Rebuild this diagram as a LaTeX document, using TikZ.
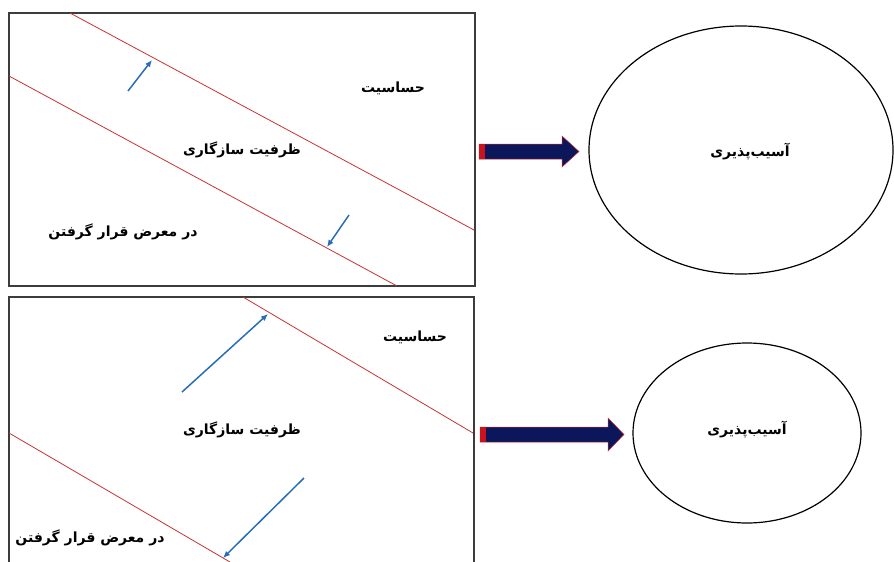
\documentclass[tikz,border=0pt]{standalone}
\usepackage{fontspec}
\newfontfamily\arabicfont[Script=Arabic]{DejaVu Sans}
\TeXXeTstate=1
\usetikzlibrary{arrows.meta}
\definecolor{boxgray}{RGB}{60,60,60}
\definecolor{redline}{RGB}{200,50,50}
\definecolor{bluearr}{RGB}{40,110,180}
\definecolor{navy}{RGB}{12,22,90}
\definecolor{bandred}{RGB}{200,20,30}
\begin{document}
\begin{tikzpicture}[x=1pt,y=-1pt,
  panel/.style={draw=boxgray,line width=1.4pt},
  bound/.style={draw=redline,line width=0.8pt},
  bluearrow/.style={draw=bluearr,line width=1.5pt,-{Latex[length=7pt,width=6pt]}},
  lbl/.style={font=\arabicfont\bfseries\fontsize{14}{16}\selectfont,inner sep=0pt},
  vuln/.style={draw=black,line width=1.2pt},
  bigarrow/.style={fill=navy,draw=redline,line width=0.5pt}]
\useasboundingbox (0,0) rectangle (894,562);
\clip (0,0) rectangle (894,562);
% top panel
\draw[panel] (9,13) rectangle (475,286);
\draw[bound] (70,13) -- (474,230);
\draw[bound] (9,76) -- (397,286);
\coordinate (a1s) at (128,91); \coordinate (a1e) at (152,60);
\coordinate (a2s) at (349,215); \coordinate (a2e) at (327,247);
\draw[bluearrow] (a1s) -- (a1e);
\draw[bluearrow] (a2s) -- (a2e);
\node[lbl] (s1) at (393,88) {\beginR حساسیت\endR};
\node[lbl] (c1) at (242,150) {\beginR ظرفیت سازگاری\endR};
\node[lbl] (e1) at (123,232) {\beginR در معرض قرار گرفتن\endR};
% bottom panel
\draw[panel] (9,297) rectangle (474,570);
\draw[bound] (243,297) -- (473,433);
\draw[bound] (9,433) -- (230,562);
\coordinate (b1s) at (182,392); \coordinate (b1e) at (268,314);
\coordinate (b2s) at (304,478); \coordinate (b2e) at (223,558);
\draw[bluearrow] (b1s) -- (b1e);
\draw[bluearrow] (b2s) -- (b2e);
\node[lbl] (s2) at (415,337) {\beginR حساسیت\endR};
\node[lbl] (c2) at (242,430) {\beginR ظرفیت سازگاری\endR};
\node[lbl] (e2) at (90,538) {\beginR در معرض قرار گرفتن\endR};
% ellipses
\draw[vuln] (741,150) ellipse [x radius=152,y radius=124];
\node[lbl] (v1) at (750,152) {\beginR آسیب‌پذیری\endR};
\draw[vuln] (747,433) ellipse [x radius=114,y radius=90];
\node[lbl] (v2) at (747,430) {\beginR آسیب‌پذیری\endR};
% big arrows
\draw[bigarrow] (479,144) -- (562,144) -- (562,136) -- (579,151.5) -- (562,167) -- (562,159) -- (479,159) -- cycle;
\fill[bandred] (479,144) rectangle (485,159);
\draw[bigarrow] (480,427) -- (608,427) -- (608,418) -- (624,434.5) -- (608,451) -- (608,442) -- (480,442) -- cycle;
\fill[bandred] (480,427) rectangle (486,442);
\end{tikzpicture}
\end{document}
